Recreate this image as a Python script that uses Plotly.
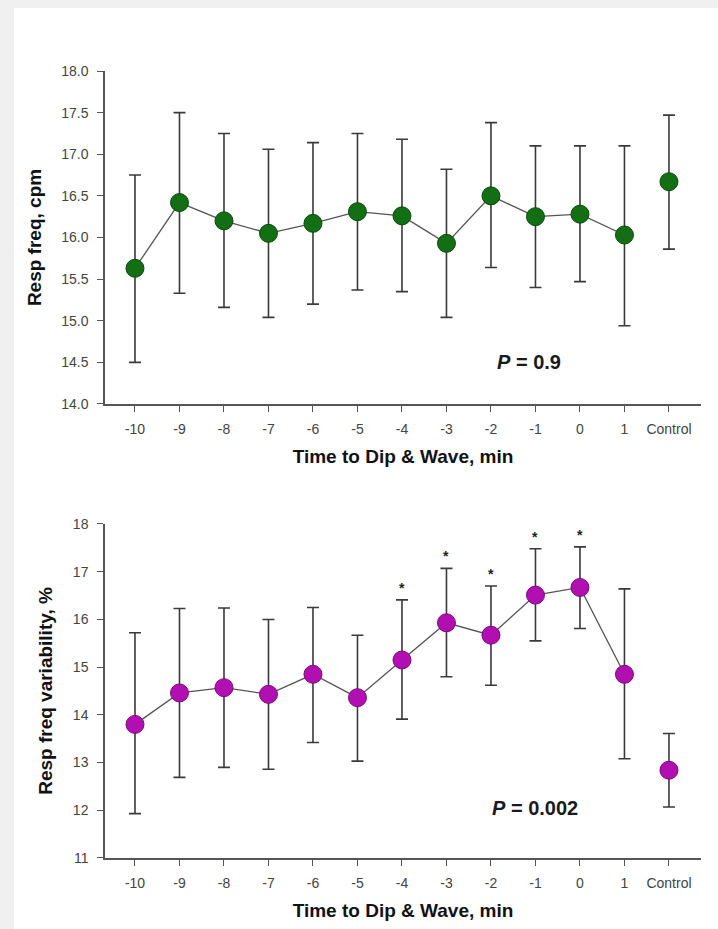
import plotly.graph_objects as go

categories = ["-10", "-9", "-8", "-7", "-6", "-5", "-4", "-3", "-2", "-1", "0", "1", "Control"]

# Top panel: respiratory frequency (cpm)
freq_mean = [15.63, 16.42, 16.20, 16.05, 16.17, 16.31, 16.26, 15.93, 16.50, 16.25, 16.28, 16.03, 16.67]
freq_upper = [16.75, 17.50, 17.25, 17.06, 17.14, 17.25, 17.18, 16.82, 17.38, 17.10, 17.10, 17.10, 17.47]
freq_lower = [14.50, 15.33, 15.16, 15.04, 15.20, 15.37, 15.35, 15.04, 15.64, 15.40, 15.47, 14.94, 15.86]

# Bottom panel: respiratory frequency variability (%)
var_mean = [13.80, 14.46, 14.57, 14.43, 14.85, 14.36, 15.15, 15.93, 15.67, 16.51, 16.67, 14.85, 12.84]
var_upper = [15.72, 16.23, 16.24, 16.00, 16.25, 15.67, 16.41, 17.07, 16.70, 17.48, 17.52, 16.64, 13.61]
var_lower = [11.93, 12.69, 12.90, 12.86, 13.42, 13.03, 13.91, 14.80, 14.62, 15.55, 15.81, 13.08, 12.07]

star_cats = ["-4", "-3", "-2", "-1", "0"]

top_ticks = [14.0, 14.5, 15.0, 15.5, 16.0, 16.5, 17.0, 17.5, 18.0]
bottom_ticks = [11, 12, 13, 14, 15, 16, 17, 18]

p_top = "<b><i>P</i> = 0.9</b>"
p_bottom = "<b><i>P</i> = 0.002</b>"
xtitle = "Time to Dip & Wave, min"

GREEN = "#136f13"
GREEN_EDGE = "#0b4a0b"
MAG = "#b20fb2"
MAG_EDGE = "#7a0a7a"
LINE = "#555555"
ERR = "#3a3a3a"
FONT = "Liberation Sans, Arial, sans-serif"

fig = go.Figure()


def add_panel(mean, upper, lower, fill, edge, xa, ya):
    n = len(categories) - 1
    plus = [u - m for u, m in zip(upper, mean)]
    minus = [m - l for m, l in zip(mean, lower)]
    # connected time points
    fig.add_trace(go.Scatter(
        x=categories[:n], y=mean[:n], mode="lines+markers",
        line=dict(color=LINE, width=1.3),
        marker=dict(size=18, color=fill, line=dict(color=edge, width=1)),
        error_y=dict(type="data", array=plus[:n], arrayminus=minus[:n],
                     color=ERR, thickness=1.6, width=6),
        xaxis=xa, yaxis=ya, showlegend=False, cliponaxis=False))
    # control (not connected)
    fig.add_trace(go.Scatter(
        x=categories[n:], y=mean[n:], mode="markers",
        marker=dict(size=18, color=fill, line=dict(color=edge, width=1)),
        error_y=dict(type="data", array=plus[n:], arrayminus=minus[n:],
                     color=ERR, thickness=1.6, width=6),
        xaxis=xa, yaxis=ya, showlegend=False, cliponaxis=False))


add_panel(freq_mean, freq_upper, freq_lower, GREEN, GREEN_EDGE, "x", "y")
add_panel(var_mean, var_upper, var_lower, MAG, MAG_EDGE, "x2", "y2")

annotations = []
for c in star_cats:
    i = categories.index(c)
    annotations.append(dict(x=i, y=var_upper[i], xref="x2", yref="y2", text="<b>*</b>",
                            showarrow=False, yanchor="bottom", yshift=2,
                            font=dict(size=14, color="#222", family=FONT)))
annotations.append(dict(x=8.85, y=14.5, xref="x", yref="y", text=p_top, showarrow=False,
                        font=dict(size=20, color="#1a1a1a", family=FONT)))
annotations.append(dict(x=9.0, y=12.04, xref="x2", yref="y2", text=p_bottom, showarrow=False,
                        font=dict(size=20, color="#1a1a1a", family=FONT)))

axis_common = dict(showline=True, linecolor="#555", linewidth=1.5, showgrid=False, zeroline=False,
                   ticks="outside", tickcolor="#555", tickwidth=1.3,
                   tickfont=dict(size=14, color="#444", family=FONT))

xcommon = dict(axis_common, type="category", range=[-0.674, 12.72], ticklen=6,
               ticklabelstandoff=5,
               title=dict(text="<b>" + xtitle + "</b>", standoff=14,
                          font=dict(size=19, color="#111", family=FONT)))

fig.update_layout(
    width=718, height=929,
    margin=dict(l=105, r=17, t=71, b=71),
    paper_bgcolor="#f0f0f0", plot_bgcolor="white",
    font=dict(family=FONT),
    xaxis=dict(xcommon, domain=[0, 1], anchor="y"),
    xaxis2=dict(xcommon, domain=[0, 1], anchor="y2"),
    yaxis=dict(axis_common, domain=[0.5769, 1.0], anchor="x", range=[14, 18], tickvals=top_ticks,
               tickformat=".1f", ticklen=6, ticklabelstandoff=6,
               title=dict(text="<b>Resp freq, cpm</b>", standoff=15,
                          font=dict(size=19, color="#111", family=FONT))),
    yaxis2=dict(axis_common, domain=[0, 0.4244], anchor="x2", range=[11, 18], tickvals=bottom_ticks,
                ticklen=6, ticklabelstandoff=6,
                title=dict(text="<b>Resp freq variability, %</b>", standoff=15,
                           font=dict(size=19, color="#111", family=FONT))),
    annotations=annotations,
    shapes=[dict(type="rect", xref="paper", yref="paper", x0=-0.1527, x1=1.05, y0=-0.1, y1=1.0801,
                 fillcolor="white", line=dict(width=0), layer="below")],
)

fig.write_html("out.html")
